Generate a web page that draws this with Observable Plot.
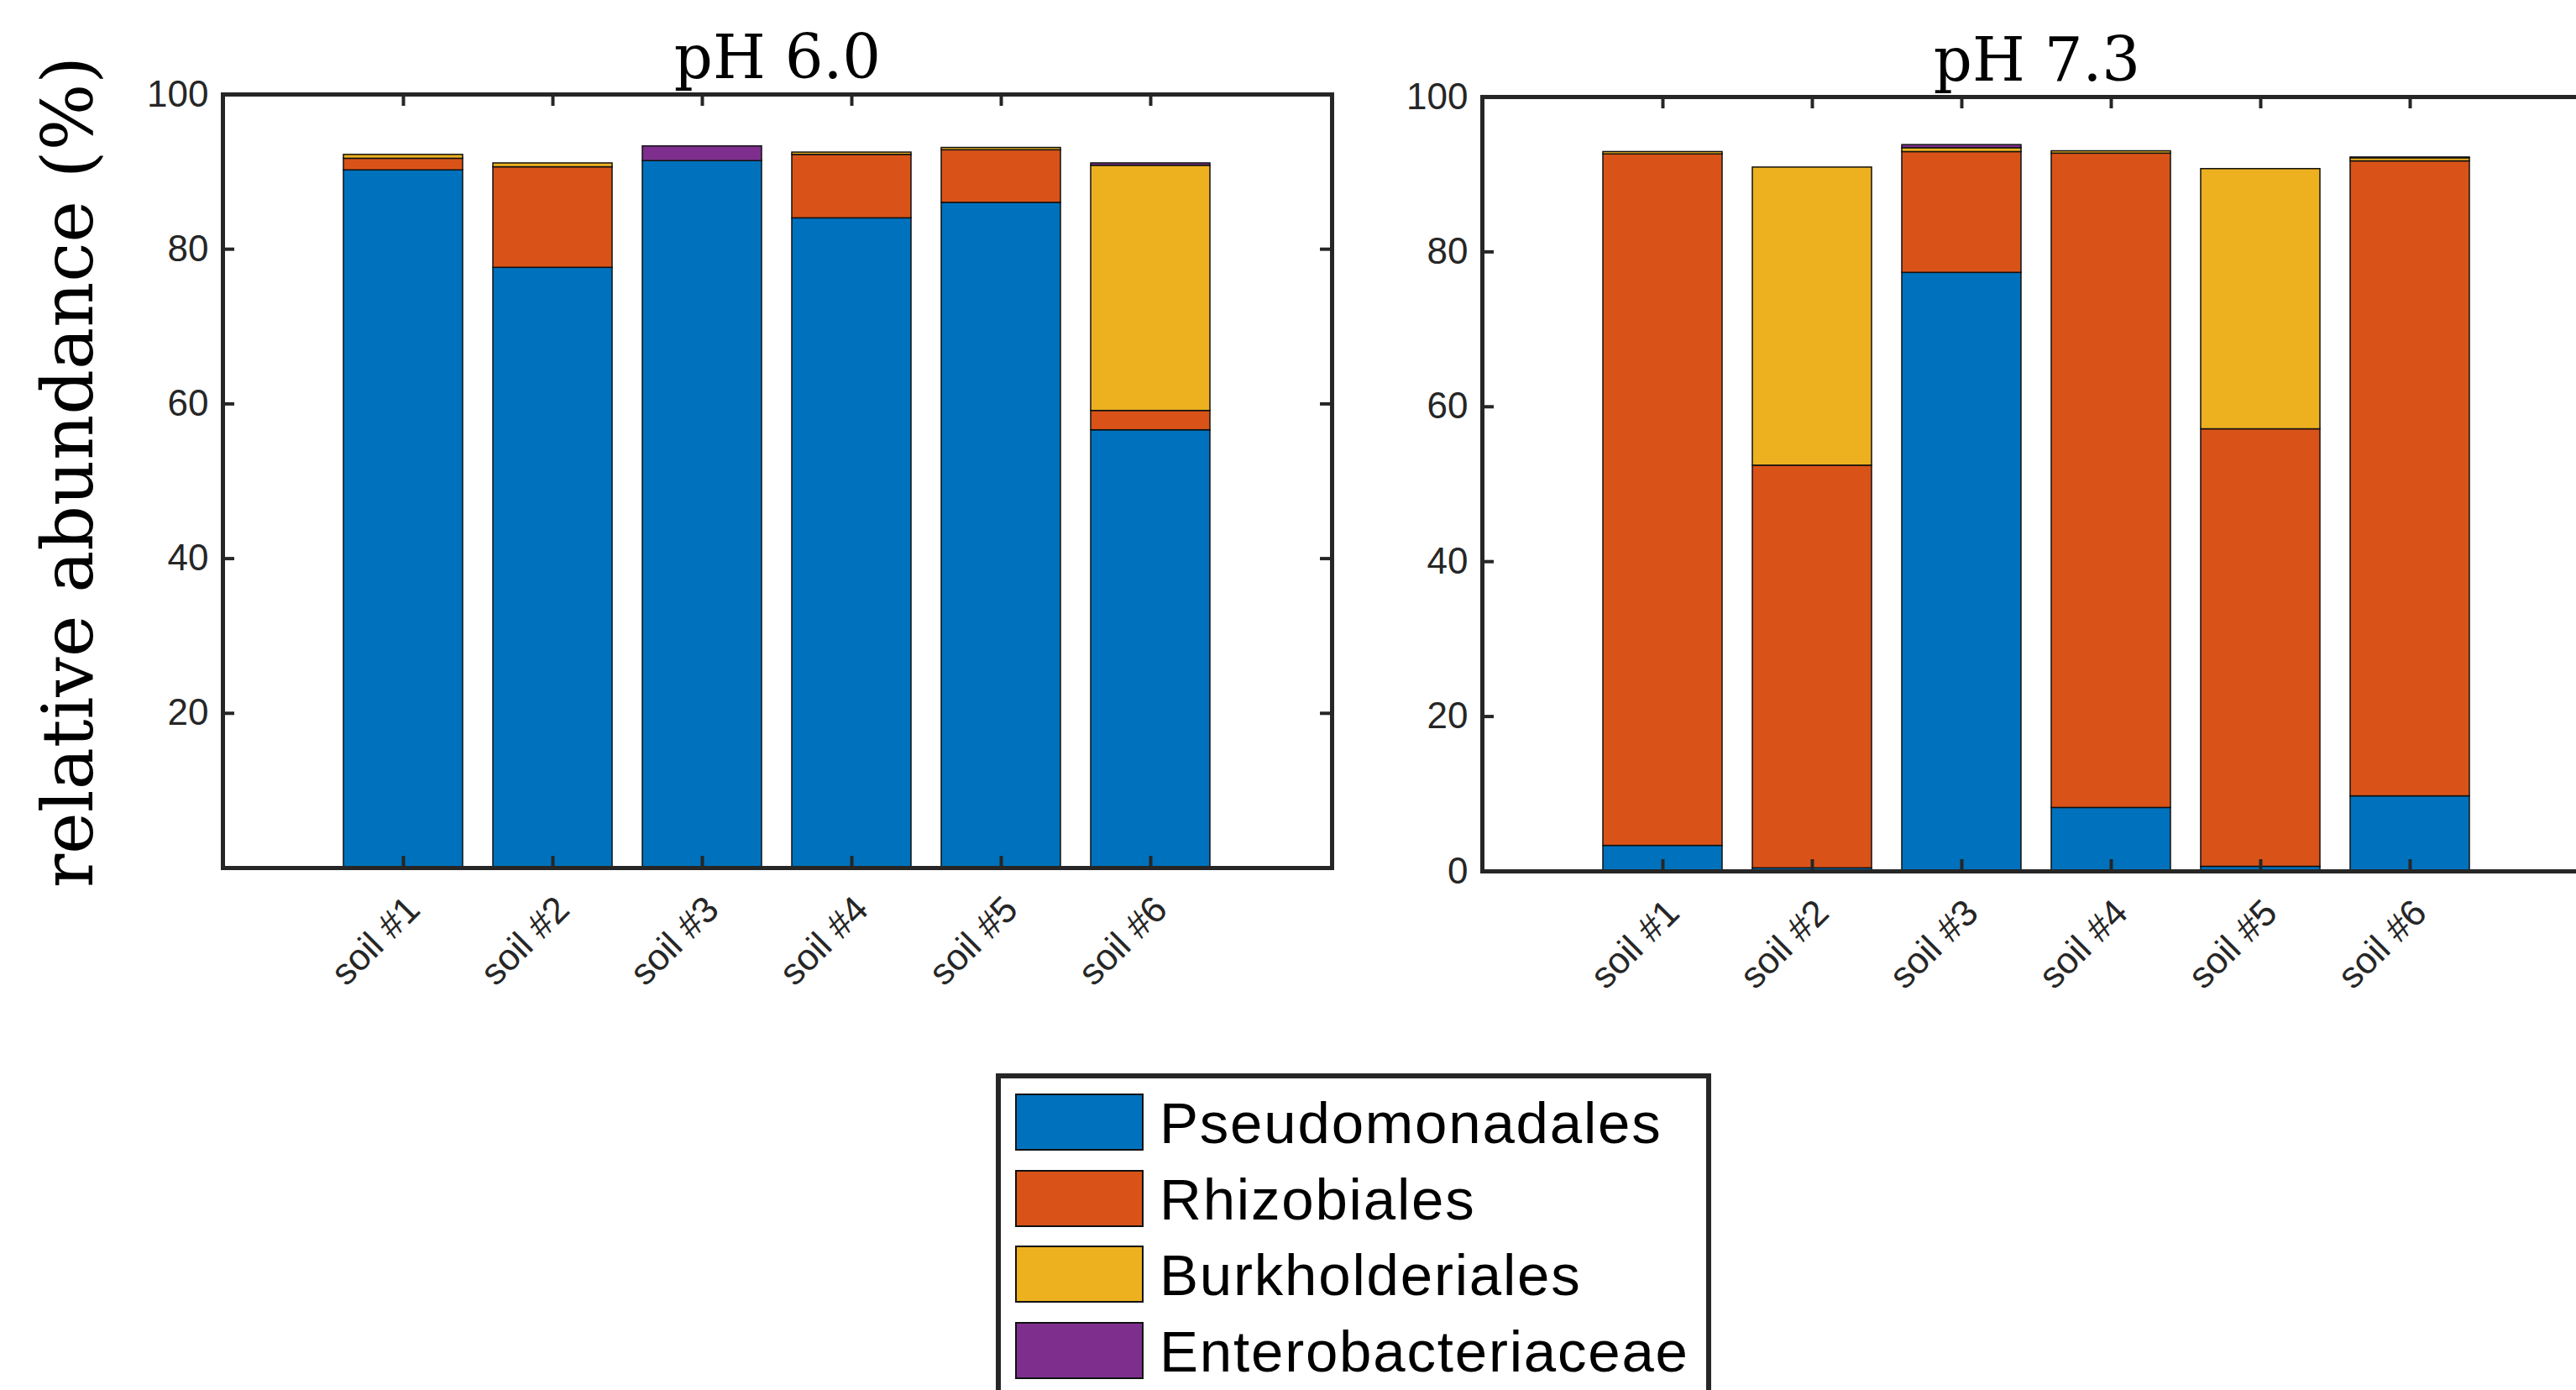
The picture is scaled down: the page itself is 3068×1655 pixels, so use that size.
<!DOCTYPE html>
<html>
<head>
<meta charset="utf-8">
<script src="https://cdn.jsdelivr.net/npm/d3@7"></script>
<script src="https://cdn.jsdelivr.net/npm/@observablehq/plot@0.6"></script>
<style>
  html, body { margin: 0; padding: 0; background: #fff; }
  body { width: 3068px; height: 1655px; overflow: hidden; position: relative; }
  .abs { position: absolute; }
  .abs svg { max-width: none !important; }
  .legend { position: absolute; left: 1186px; top: 1278px; width: 852px; height: 420px;
            border: 6px solid #262626; box-sizing: border-box; background: #fff; }
  .sw { position: absolute; width: 153px; height: 68px; box-sizing: border-box; border: 2px solid #111; }
  .lt { position: absolute; font-family: "Liberation Sans", Arial, sans-serif; font-size: 69px;
        letter-spacing: 1.8px; color: #000; line-height: 68px; white-space: nowrap; }
</style>
</head>
<body>
<div id="left" class="abs" style="left:0;top:0;width:1700px"></div>
<div id="right" class="abs" style="left:1600px;top:0;width:1586px"></div>
<svg class="abs" style="left:0;top:0" width="200" height="1200">
  <text id="ylab" transform="translate(110,562) rotate(-90)" text-anchor="middle"
        font-family="DejaVu Serif, serif" font-size="84" fill="#000"></text>
</svg>
<div id="legend" class="legend"></div>
<script>
// ---- data ----
const soils = ["soil #1", "soil #2", "soil #3", "soil #4", "soil #5", "soil #6"];
const taxa = ["Pseudomonadales", "Rhizobiales", "Burkholderiales", "Enterobacteriaceae"];
const colors = ["#0072BD", "#D95319", "#EDB120", "#7E2F8E"];
const panelTitles = ["pH 6.0", "pH 7.3"];
const yLabel = "relative abundance (%)";

// pH 6.0
const ph60_pseudo = [90.2, 77.6, 91.4, 84.0, 86.0, 56.6];
const ph60_rhizo  = [1.5, 13.0, 0.0, 8.2, 6.8, 2.5];
const ph60_burk   = [0.5, 0.5, 0.0, 0.3, 0.3, 31.7];
const ph60_entero = [0.0, 0.0, 1.9, 0.0, 0.0, 0.3];
// pH 7.3
const ph73_pseudo = [3.3, 0.4, 77.3, 8.2, 0.6, 9.7];
const ph73_rhizo  = [89.3, 52.0, 15.6, 84.5, 56.5, 82.0];
const ph73_burk   = [0.3, 38.5, 0.5, 0.3, 33.6, 0.4];
const ph73_entero = [0.0, 0.0, 0.4, 0.0, 0.0, 0.1];

const ticksLeft = [20, 40, 60, 80, 100];
const ticksRight = [0, 20, 40, 60, 80, 100];

function rows(series) {
  const out = [];
  soils.forEach((s, i) => {
    series.forEach((arr, k) => {
      if (arr[i] > 0) out.push({soil: s, taxon: taxa[k], value: arr[i]});
    });
  });
  return out;
}

const axisColor = "#262626";
const boxW = 1321;

function panel({data, yTicks, title, width, height, marginLeft, marginTop, marginBottom}) {
  const marginRight = width - marginLeft - boxW;
  const plotH = height - marginTop - marginBottom;
  const tick = 14;
  return Plot.plot({
    width, height, marginLeft, marginRight, marginTop, marginBottom,
    style: {fontFamily: "Liberation Sans, Arial, sans-serif", color: axisColor, background: "transparent", overflow: "visible", maxWidth: "none"},
    x: {domain: soils, paddingInner: 0.2, paddingOuter: 0.8, align: 0.5, label: null},
    y: {domain: [0, 100], label: null},
    color: {domain: taxa, range: colors},
    marks: [
      Plot.barY(data, {x: "soil", y: "value", fill: "taxon", stroke: "#111", strokeWidth: 1.5}),
      Plot.ruleY(yTicks, {y: d => d, insetRight: boxW - tick, stroke: axisColor, strokeWidth: 4}),
      Plot.ruleY(yTicks, {y: d => d, insetLeft: boxW - tick, stroke: axisColor, strokeWidth: 4}),
      Plot.ruleX(soils, {x: d => d, insetTop: plotH - tick, stroke: axisColor, strokeWidth: 4}),
      Plot.ruleX(soils, {x: d => d, insetBottom: plotH - tick, stroke: axisColor, strokeWidth: 4}),
      Plot.frame({stroke: axisColor, strokeWidth: 5}),
      Plot.axisY({ticks: yTicks, tickSize: 0, tickPadding: 17, fontSize: 44, fill: axisColor}),
      Plot.axisX({tickSize: 0, tickRotate: -45, tickPadding: 22, dx: 12, dy: 20, fontSize: 44, fill: axisColor}),
      Plot.text([title], {text: d => d, frameAnchor: "top", lineAnchor: "bottom", dy: -20,
        fontFamily: "DejaVu Serif, serif", fontSize: 72, fill: "#000"})
    ]
  });
}

document.getElementById("left").append(panel({
  data: rows([ph60_pseudo, ph60_rhizo, ph60_burk, ph60_entero]),
  yTicks: ticksLeft, title: panelTitles[0],
  width: 1700, height: 1250, marginLeft: 265, marginTop: 112, marginBottom: 217
}));
document.getElementById("right").append(panel({
  data: rows([ph73_pseudo, ph73_rhizo, ph73_burk, ph73_entero]),
  yTicks: ticksRight, title: panelTitles[1],
  width: 1586, height: 1250, marginLeft: 165, marginTop: 115, marginBottom: 213
}));

document.getElementById("ylab").textContent = yLabel;

const leg = document.getElementById("legend");
taxa.forEach((t, i) => {
  const top = 18 + i * 90.5;
  const sw = document.createElement("div");
  sw.className = "sw";
  sw.style.left = "17px"; sw.style.top = top + "px"; sw.style.background = colors[i];
  leg.append(sw);
  const tx = document.createElement("div");
  tx.className = "lt";
  tx.style.left = "189px"; tx.style.top = (top + 2) + "px";
  tx.textContent = t;
  leg.append(tx);
});
</script>
</body>
</html>
